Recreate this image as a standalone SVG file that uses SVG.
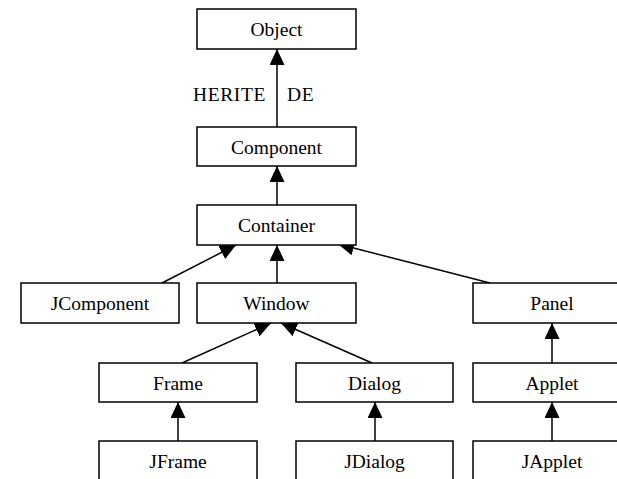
<svg xmlns="http://www.w3.org/2000/svg" width="617" height="479" viewBox="0 0 617 479">
  <style>
    .box { fill: #fff; stroke: #000; stroke-width: 1.5; }
    .lbl { font-family: "Liberation Serif", "Times New Roman", serif; font-size: 19.5px; fill: #000; text-anchor: middle; }
    .edge { fill: none; stroke: #000; stroke-width: 1.5; marker-end: url(#tri); }
  </style>
  <defs>
    <marker id="tri" markerUnits="userSpaceOnUse" viewBox="0 0 16 15" refX="16" refY="7.5" markerWidth="16" markerHeight="15" orient="auto">
      <path d="M0,0 L16,7.5 L0,15 z" fill="#000"/>
    </marker>
  </defs>
  <rect width="617" height="479" fill="#fff"/>

  <g id="connectors">
    <path class="edge" d="M277,127 L277,49"/>
    <path class="edge" d="M277,205 L277,166"/>
    <path class="edge" d="M277,283 L277,245"/>
    <path class="edge" d="M162,283 L236,245"/>
    <path class="edge" d="M490,283 L338,244"/>
    <path class="edge" d="M182,363 L271,323"/>
    <path class="edge" d="M372,363 L281,323"/>
    <path class="edge" d="M178,441 L178,402"/>
    <path class="edge" d="M375,441 L375,402"/>
    <path class="edge" d="M552,363 L552,323"/>
    <path class="edge" d="M552,441 L552,402"/>
    <text class="lbl" x="193" y="101" style="text-anchor:start;letter-spacing:0.6px">HERITE</text>
    <text class="lbl" x="287" y="101" style="text-anchor:start;letter-spacing:0.6px">DE</text>
  </g>

  <g id="Object"><rect class="box" x="197" y="9" width="159" height="40"/><text class="lbl" x="276.5" y="36">Object</text></g>
  <g id="Component"><rect class="box" x="197" y="127" width="159" height="39"/><text class="lbl" x="276.5" y="154">Component</text></g>
  <g id="Container"><rect class="box" x="197" y="205" width="159" height="40"/><text class="lbl" x="276.5" y="232">Container</text></g>
  <g id="JComponent"><rect class="box" x="21" y="283" width="158" height="40"/><text class="lbl" x="100" y="310">JComponent</text></g>
  <g id="Window"><rect class="box" x="197" y="283" width="159" height="40"/><text class="lbl" x="276.5" y="310">Window</text></g>
  <g id="Panel"><rect class="box" x="473" y="283" width="159" height="40"/><text class="lbl" x="552" y="310">Panel</text></g>
  <g id="Frame"><rect class="box" x="99" y="363" width="158" height="39"/><text class="lbl" x="178" y="390">Frame</text></g>
  <g id="Dialog"><rect class="box" x="296" y="363" width="157" height="39"/><text class="lbl" x="374.5" y="390">Dialog</text></g>
  <g id="Applet"><rect class="box" x="473" y="363" width="159" height="39"/><text class="lbl" x="552" y="390">Applet</text></g>
  <g id="JFrame"><rect class="box" x="99" y="441" width="158" height="50"/><text class="lbl" x="178" y="468">JFrame</text></g>
  <g id="JDialog"><rect class="box" x="296" y="441" width="157" height="50"/><text class="lbl" x="374.5" y="468">JDialog</text></g>
  <g id="JApplet"><rect class="box" x="473" y="441" width="159" height="50"/><text class="lbl" x="552" y="468">JApplet</text></g>
</svg>
